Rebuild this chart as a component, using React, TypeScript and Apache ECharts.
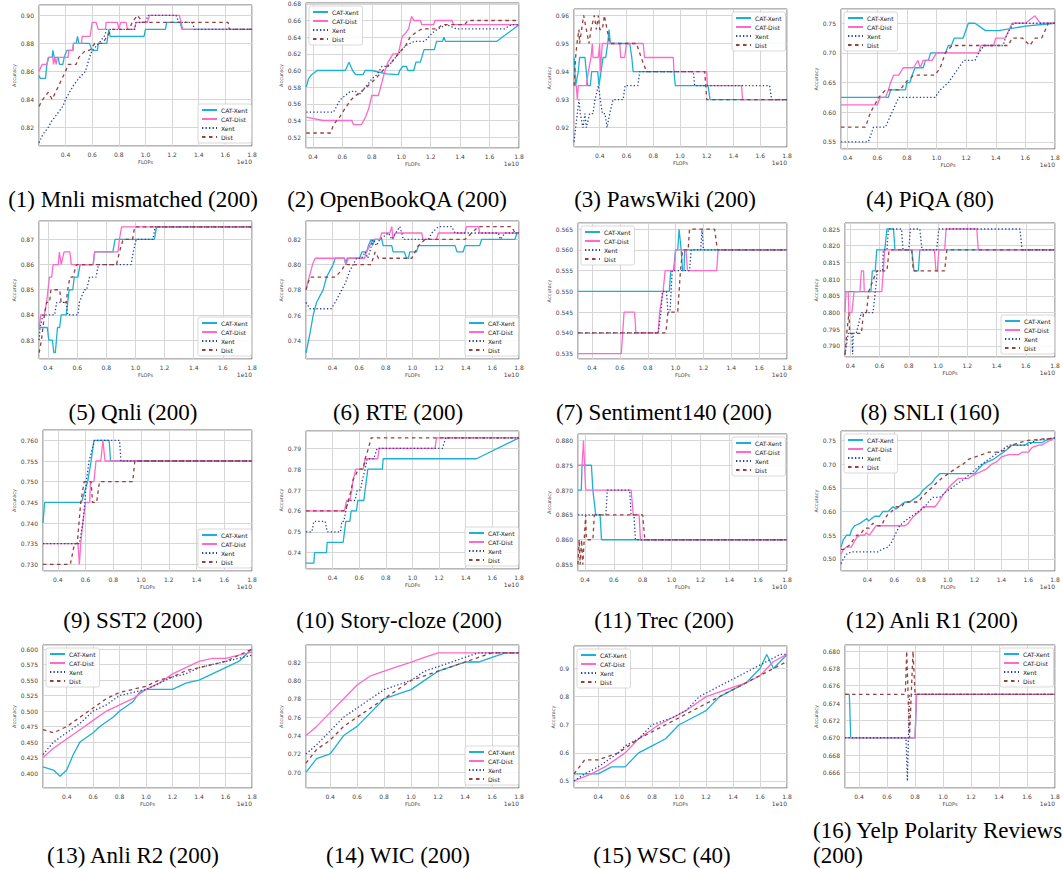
import React, { useEffect, useRef } from "react";
import * as echarts from "echarts";

// ---------------- data (x in units of 1e10 FLOPs, y = accuracy) ----------------
const mnliCatXent = [[0.201,0.857],[0.21,0.855],[0.25,0.855],[0.26,0.865],[0.275,0.87],[0.3,0.87],[0.305,0.875],[0.315,0.87],[0.345,0.87],[0.355,0.865],[0.38,0.865],[0.39,0.87],[0.41,0.875],[0.455,0.875],[0.46,0.88],[0.48,0.88],[0.49,0.885],[0.5,0.88],[0.58,0.88],[0.6,0.875],[0.64,0.875],[0.645,0.88],[0.71,0.88],[0.725,0.89],[0.735,0.885],[0.99,0.885],[1.0,0.89],[1.15,0.89],[1.16,0.895],[1.26,0.895],[1.275,0.89],[1.8,0.89]];
const mnliCatDist = [[0.201,0.86],[0.225,0.865],[0.26,0.865],[0.27,0.87],[0.305,0.87],[0.31,0.865],[0.32,0.87],[0.33,0.865],[0.34,0.87],[0.42,0.87],[0.425,0.875],[0.455,0.875],[0.46,0.88],[0.52,0.88],[0.525,0.885],[0.585,0.885],[0.6,0.895],[0.63,0.895],[0.645,0.89],[0.7,0.89],[0.705,0.895],[0.79,0.895],[0.8,0.89],[0.815,0.895],[0.855,0.895],[0.865,0.89],[0.915,0.89],[0.93,0.895],[1.015,0.895],[1.03,0.9],[1.255,0.9],[1.28,0.89],[1.8,0.89]];
const mnliXent = [[0.201,0.809],[0.23,0.815],[0.27,0.82],[0.3,0.825],[0.34,0.83],[0.38,0.835],[0.4,0.84],[0.43,0.845],[0.46,0.85],[0.5,0.855],[0.55,0.86],[0.58,0.87],[0.6,0.875],[0.65,0.88],[0.69,0.885],[0.71,0.89],[0.92,0.89],[0.93,0.895],[1.0,0.895],[1.02,0.9],[1.23,0.9],[1.25,0.895],[1.35,0.895],[1.37,0.89],[1.8,0.89]];
const mnliDist = [[0.201,0.835],[0.23,0.84],[0.27,0.845],[0.3,0.84],[0.35,0.85],[0.4,0.86],[0.42,0.865],[0.48,0.865],[0.5,0.87],[0.55,0.875],[0.58,0.875],[0.62,0.88],[0.68,0.88],[0.71,0.885],[0.75,0.89],[0.88,0.89],[0.9,0.895],[0.94,0.9],[0.98,0.895],[1.62,0.895],[1.63,0.89],[1.8,0.89]];

const obqaCatXent = [[0.355,0.58],[0.37,0.59],[0.39,0.595],[0.43,0.6],[0.62,0.6],[0.645,0.61],[0.67,0.6],[0.69,0.595],[0.74,0.595],[0.755,0.6],[0.8,0.6],[0.9,0.596],[0.98,0.595],[0.99,0.6],[1.01,0.605],[1.035,0.605],[1.045,0.6],[1.085,0.6],[1.1,0.61],[1.13,0.61],[1.155,0.625],[1.225,0.625],[1.24,0.635],[1.28,0.635],[1.29,0.64],[1.3,0.635],[1.65,0.635],[1.8,0.655]];
const obqaCatDist = [[0.355,0.544],[0.47,0.54],[0.665,0.54],[0.675,0.535],[0.73,0.535],[0.745,0.54],[0.76,0.545],[0.78,0.555],[0.8,0.57],[0.845,0.57],[0.86,0.58],[0.875,0.59],[0.89,0.6],[0.91,0.61],[0.945,0.62],[0.98,0.62],[1.005,0.64],[1.03,0.645],[1.05,0.65],[1.07,0.665],[1.085,0.66],[1.13,0.66],[1.14,0.655],[1.22,0.655],[1.23,0.66],[1.345,0.66],[1.355,0.655],[1.8,0.655]];
const obqaXent = [[0.355,0.55],[0.54,0.55],[0.555,0.555],[0.585,0.565],[0.62,0.57],[0.655,0.575],[0.69,0.575],[0.71,0.57],[0.755,0.58],[0.78,0.585],[0.8,0.59],[0.835,0.595],[0.87,0.605],[0.91,0.605],[0.935,0.61],[0.98,0.62],[1.03,0.63],[1.09,0.635],[1.16,0.635],[1.185,0.64],[1.21,0.645],[1.25,0.65],[1.31,0.655],[1.375,0.65],[1.7,0.65],[1.75,0.655],[1.8,0.655]];
const obqaDist = [[0.355,0.525],[0.52,0.525],[0.54,0.535],[0.585,0.545],[0.62,0.555],[0.66,0.565],[0.69,0.57],[0.73,0.575],[0.765,0.58],[0.795,0.585],[0.825,0.59],[0.875,0.6],[0.935,0.61],[0.98,0.62],[1.03,0.63],[1.06,0.64],[1.095,0.645],[1.14,0.65],[1.25,0.65],[1.275,0.655],[1.43,0.655],[1.455,0.66],[1.8,0.66]];

const pawsCatXent = [[0.209,0.945],[0.22,0.935],[0.24,0.94],[0.25,0.945],[0.29,0.945],[0.3,0.94],[0.31,0.935],[0.33,0.935],[0.34,0.94],[0.385,0.94],[0.395,0.935],[0.41,0.94],[0.425,0.945],[0.445,0.945],[0.46,0.95],[0.47,0.955],[0.48,0.95],[0.625,0.95],[0.64,0.945],[0.65,0.94],[0.955,0.94],[0.965,0.935],[1.21,0.935],[1.225,0.93],[1.8,0.93]];
const pawsCatDist = [[0.209,0.935],[0.225,0.935],[0.233,0.93],[0.24,0.935],[0.3,0.935],[0.315,0.94],[0.335,0.945],[0.345,0.95],[0.35,0.945],[0.39,0.945],[0.4,0.95],[0.405,0.94],[0.42,0.95],[0.55,0.95],[0.557,0.945],[0.587,0.945],[0.6,0.95],[0.725,0.95],[0.735,0.945],[0.95,0.945],[0.955,0.94],[1.2,0.94],[1.205,0.935],[1.46,0.935],[1.468,0.93],[1.8,0.93]];
const pawsXent = [[0.209,0.915],[0.22,0.92],[0.233,0.925],[0.245,0.93],[0.255,0.925],[0.275,0.92],[0.29,0.925],[0.3,0.92],[0.325,0.925],[0.35,0.925],[0.365,0.93],[0.39,0.935],[0.405,0.93],[0.42,0.925],[0.44,0.925],[0.455,0.92],[0.475,0.925],[0.5,0.93],[0.575,0.93],[0.59,0.935],[0.685,0.935],[0.7,0.94],[1.1,0.94],[1.11,0.935],[1.67,0.935],[1.685,0.93],[1.8,0.93]];
const pawsDist = [[0.209,0.935],[0.22,0.945],[0.23,0.95],[0.245,0.955],[0.25,0.95],[0.265,0.955],[0.28,0.96],[0.3,0.955],[0.32,0.95],[0.335,0.955],[0.36,0.96],[0.375,0.955],[0.39,0.96],[0.4,0.955],[0.42,0.955],[0.435,0.96],[0.455,0.955],[0.475,0.95],[0.675,0.95],[0.71,0.945],[0.75,0.94],[1.185,0.94],[1.2,0.93],[1.8,0.93]];

const piqaCatXent = [[0.355,0.625],[0.675,0.625],[0.69,0.6375],[0.79,0.6375],[0.8,0.65],[0.82,0.65],[0.835,0.6625],[0.855,0.675],[0.91,0.675],[0.925,0.6875],[0.945,0.6875],[0.96,0.7],[1.06,0.7],[1.08,0.7125],[1.1,0.7125],[1.12,0.725],[1.18,0.725],[1.215,0.75],[1.26,0.75],[1.33,0.7375],[1.42,0.7375],[1.6,0.745],[1.8,0.75]];
const piqaCatDist = [[0.355,0.6125],[0.6,0.6125],[0.62,0.625],[0.655,0.625],[0.675,0.6375],[0.69,0.65],[0.71,0.6625],[0.745,0.6625],[0.775,0.675],[0.845,0.675],[0.875,0.6875],[0.89,0.675],[0.91,0.6875],[0.97,0.6875],[1.0,0.7],[1.285,0.7],[1.3,0.7125],[1.385,0.7125],[1.4,0.725],[1.465,0.725],[1.51,0.75],[1.6,0.75],[1.665,0.7625],[1.7,0.75],[1.8,0.75]];
const piqaXent = [[0.355,0.55],[0.54,0.55],[0.575,0.575],[0.655,0.575],[0.7,0.6],[0.745,0.625],[0.99,0.625],[1.025,0.6375],[1.08,0.65],[1.115,0.6625],[1.15,0.675],[1.185,0.6875],[1.26,0.6875],[1.285,0.7],[1.32,0.7125],[1.45,0.7125],[1.465,0.725],[1.49,0.7375],[1.52,0.75],[1.8,0.75]];
const piqaDist = [[0.355,0.575],[0.52,0.575],[0.555,0.6],[0.61,0.625],[0.655,0.6375],[0.755,0.6375],[0.79,0.65],[0.845,0.6625],[0.99,0.6625],[1.025,0.675],[1.06,0.7],[1.105,0.7125],[1.485,0.7125],[1.51,0.725],[1.58,0.725],[1.63,0.7125],[1.665,0.725],[1.71,0.725],[1.755,0.75],[1.8,0.75]];

const qnliCatXent = [[0.339,0.835],[0.395,0.835],[0.405,0.83],[0.43,0.83],[0.44,0.825],[0.45,0.825],[0.465,0.835],[0.48,0.835],[0.49,0.84],[0.525,0.84],[0.535,0.845],[0.545,0.85],[0.57,0.85],[0.58,0.855],[0.605,0.855],[0.62,0.86],[0.71,0.86],[0.72,0.865],[0.845,0.865],[0.86,0.87],[1.13,0.87],[1.145,0.875],[1.8,0.875]];
const qnliCatDist = [[0.339,0.835],[0.35,0.84],[0.375,0.84],[0.39,0.845],[0.41,0.855],[0.425,0.855],[0.435,0.86],[0.47,0.86],[0.478,0.865],[0.49,0.86],[0.51,0.865],[0.55,0.865],[0.56,0.86],[0.71,0.86],[0.72,0.865],[0.88,0.865],[0.89,0.87],[0.905,0.875],[1.8,0.875]];
const qnliXent = [[0.339,0.83],[0.345,0.835],[0.365,0.84],[0.445,0.84],[0.46,0.845],[0.525,0.845],[0.535,0.84],[0.605,0.84],[0.615,0.845],[0.65,0.85],[0.665,0.85],[0.685,0.855],[0.73,0.855],[0.745,0.86],[0.97,0.86],[0.985,0.865],[1.005,0.87],[1.12,0.87],[1.135,0.875],[1.8,0.875]];
const qnliDist = [[0.339,0.825],[0.355,0.83],[0.365,0.835],[0.375,0.84],[0.39,0.845],[0.41,0.845],[0.42,0.85],[0.48,0.85],[0.49,0.845],[0.525,0.845],[0.535,0.85],[0.55,0.855],[0.57,0.855],[0.595,0.86],[0.87,0.86],[0.89,0.865],[0.915,0.87],[0.98,0.87],[0.995,0.875],[1.8,0.875]];

const rteCatXent = [[0.201,0.73],[0.23,0.745],[0.255,0.76],[0.28,0.77],[0.305,0.775],[0.33,0.78],[0.355,0.79],[0.38,0.795],[0.405,0.8],[0.42,0.805],[0.49,0.805],[0.5,0.8],[0.51,0.805],[0.605,0.805],[0.62,0.81],[0.655,0.81],[0.67,0.815],[0.69,0.82],[0.7,0.815],[0.72,0.82],[0.77,0.82],[0.78,0.815],[0.845,0.815],[0.855,0.81],[0.94,0.81],[0.955,0.805],[0.97,0.805],[0.98,0.81],[1.03,0.81],[1.045,0.815],[1.32,0.815],[1.335,0.81],[1.38,0.81],[1.395,0.815],[1.505,0.815],[1.52,0.82],[1.77,0.82],[1.785,0.825],[1.8,0.825]];
const rteCatDist = [[0.201,0.78],[0.225,0.79],[0.25,0.8],[0.27,0.805],[0.49,0.805],[0.5,0.8],[0.52,0.805],[0.64,0.805],[0.655,0.81],[0.68,0.815],[0.705,0.82],[0.755,0.82],[0.77,0.825],[0.83,0.825],[0.845,0.83],[0.855,0.82],[0.87,0.825],[1.07,0.825],[1.08,0.82],[1.18,0.82],[1.195,0.825],[1.395,0.825],[1.405,0.83],[1.495,0.83],[1.505,0.825],[1.8,0.825]];
const rteXent = [[0.201,0.77],[0.23,0.765],[0.39,0.765],[0.42,0.77],[0.445,0.775],[0.47,0.78],[0.495,0.785],[0.53,0.795],[0.555,0.8],[0.58,0.805],[0.62,0.805],[0.645,0.81],[0.665,0.805],[0.68,0.81],[0.705,0.82],[0.73,0.815],[0.755,0.82],[0.82,0.825],[0.845,0.82],[0.905,0.83],[0.92,0.825],[0.93,0.82],[1.12,0.82],[1.145,0.825],[1.195,0.83],[1.295,0.83],[1.32,0.825],[1.645,0.825],[1.66,0.82],[1.695,0.825],[1.8,0.825]];
const rteDist = [[0.201,0.78],[0.23,0.79],[0.42,0.79],[0.465,0.795],[0.495,0.8],[0.69,0.8],[0.72,0.81],[0.745,0.805],[0.995,0.805],[1.045,0.815],[1.095,0.82],[1.395,0.82],[1.445,0.825],[1.495,0.83],[1.745,0.83],[1.77,0.825],[1.8,0.825]];

const sentCatXent = [[0.299,0.55],[0.955,0.55],[0.965,0.555],[0.985,0.555],[1.0,0.56],[1.015,0.56],[1.025,0.565],[1.04,0.56],[1.05,0.555],[1.06,0.555],[1.065,0.56],[1.8,0.56]];
const sentCatDist = [[0.299,0.535],[0.61,0.535],[0.63,0.545],[0.705,0.545],[0.715,0.54],[0.875,0.54],[0.885,0.545],[0.91,0.55],[0.925,0.555],[0.99,0.555],[1.0,0.56],[1.075,0.56],[1.085,0.555],[1.295,0.555],[1.305,0.56],[1.8,0.56]];
const sentXent = [[0.299,0.54],[0.875,0.54],[0.895,0.545],[0.905,0.55],[0.935,0.55],[0.945,0.545],[0.96,0.545],[0.975,0.555],[1.1,0.555],[1.112,0.56],[1.18,0.56],[1.19,0.565],[1.2,0.56],[1.8,0.56]];
const sentDist = [[0.299,0.54],[0.93,0.54],[0.945,0.545],[1.015,0.545],[1.025,0.55],[1.035,0.555],[1.05,0.56],[1.09,0.56],[1.1,0.565],[1.28,0.565],[1.3,0.56],[1.8,0.56]];

const snliCatXent = [[0.363,0.80625],[0.54,0.80625],[0.55,0.8125],[0.57,0.8125],[0.58,0.81875],[0.635,0.81875],[0.65,0.825],[0.695,0.825],[0.705,0.81875],[0.82,0.81875],[0.835,0.8125],[0.865,0.8125],[0.875,0.81875],[1.8,0.81875]];
const snliCatDist = [[0.363,0.8],[0.37,0.80625],[0.385,0.80625],[0.39,0.8],[0.41,0.8],[0.425,0.80625],[0.465,0.80625],[0.475,0.8125],[0.49,0.8125],[0.495,0.80625],[0.615,0.80625],[0.625,0.8125],[0.635,0.81875],[0.975,0.81875],[0.985,0.8125],[0.995,0.8125],[1.005,0.81875],[1.045,0.81875],[1.055,0.825],[1.265,0.825],[1.275,0.81875],[1.8,0.81875]];
const snliXent = [[0.363,0.7875],[0.385,0.79375],[0.41,0.79375],[0.415,0.7875],[0.42,0.79375],[0.44,0.79375],[0.475,0.8],[0.555,0.8],[0.57,0.80625],[0.585,0.8125],[0.62,0.8125],[0.625,0.81875],[0.65,0.81875],[0.66,0.825],[0.75,0.825],[0.76,0.81875],[0.8,0.81875],[0.81,0.825],[0.875,0.825],[0.89,0.81875],[0.99,0.81875],[1.005,0.825],[1.56,0.825],[1.575,0.81875],[1.8,0.81875]];
const snliDist = [[0.363,0.7875],[0.375,0.79375],[0.39,0.8],[0.395,0.79375],[0.475,0.79375],[0.49,0.8],[0.51,0.8],[0.525,0.80625],[0.58,0.8125],[0.65,0.8125],[0.665,0.81875],[0.82,0.81875],[0.83,0.8125],[1.045,0.8125],[1.06,0.81875],[1.8,0.81875]];

const sst2CatXent = [[0.293,0.74],[0.305,0.745],[0.57,0.745],[0.615,0.75],[0.64,0.755],[0.66,0.76],[0.77,0.76],[0.78,0.755],[1.8,0.755]];
const sst2CatDist = [[0.293,0.735],[0.545,0.735],[0.555,0.73],[0.565,0.735],[0.58,0.74],[0.6,0.745],[0.63,0.745],[0.635,0.75],[0.66,0.75],[0.675,0.755],[0.71,0.755],[0.725,0.76],[0.74,0.755],[1.8,0.755]];
const sst2Xent = [[0.293,0.735],[0.555,0.735],[0.58,0.74],[0.595,0.745],[0.605,0.75],[0.625,0.755],[0.665,0.76],[0.845,0.76],[0.855,0.755],[1.8,0.755]];
const sst2Dist = [[0.293,0.73],[0.49,0.73],[0.52,0.735],[0.54,0.735],[0.565,0.745],[0.59,0.75],[0.64,0.75],[0.65,0.745],[0.68,0.745],[0.7,0.75],[0.94,0.75],[0.955,0.755],[1.8,0.755]];

const storyCatXent = [[0.201,0.735],[0.26,0.735],[0.265,0.74],[0.355,0.74],[0.36,0.745],[0.48,0.745],[0.49,0.75],[0.5,0.755],[0.53,0.755],[0.54,0.76],[0.58,0.76],[0.59,0.765],[0.635,0.765],[0.645,0.77],[0.665,0.78],[0.775,0.78],[0.78,0.785],[1.48,0.785],[1.8,0.795]];
const storyCatDist = [[0.201,0.76],[0.49,0.76],[0.505,0.765],[0.53,0.765],[0.545,0.77],[0.555,0.775],[0.575,0.78],[0.63,0.78],[0.645,0.785],[0.74,0.785],[0.75,0.79],[1.17,0.79],[1.18,0.795],[1.8,0.795]];
const storyXent = [[0.201,0.75],[0.245,0.75],[0.26,0.755],[0.345,0.755],[0.36,0.75],[0.46,0.75],[0.47,0.755],[0.485,0.755],[0.5,0.76],[0.52,0.765],[0.57,0.765],[0.585,0.77],[0.61,0.77],[0.625,0.775],[0.645,0.78],[0.66,0.785],[0.71,0.785],[0.735,0.79],[1.225,0.79],[1.25,0.795],[1.8,0.795]];
const storyDist = [[0.201,0.76],[0.495,0.76],[0.52,0.765],[0.54,0.77],[0.555,0.775],[0.595,0.78],[0.63,0.78],[0.645,0.785],[0.67,0.79],[0.69,0.795],[1.8,0.795]];

const trecCatXent = [[0.352,0.87],[0.375,0.87],[0.38,0.875],[0.445,0.875],[0.455,0.87],[0.475,0.865],[0.505,0.865],[0.515,0.86],[1.8,0.86]];
const trecCatDist = [[0.352,0.875],[0.38,0.875],[0.39,0.88],[0.405,0.87],[0.72,0.87],[0.735,0.865],[0.775,0.865],[0.785,0.86],[1.8,0.86]];
const trecXent = [[0.352,0.865],[0.545,0.865],[0.555,0.87],[0.71,0.87],[0.72,0.865],[0.74,0.865],[0.75,0.86],[1.8,0.86]];
const trecDist = [[0.352,0.855],[0.36,0.86],[0.367,0.855],[0.377,0.86],[0.385,0.855],[0.395,0.86],[0.405,0.865],[0.41,0.86],[0.455,0.86],[0.465,0.865],[0.8,0.865],[0.815,0.86],[1.8,0.86]];

const anliR1CatXent = [[0.203,0.525],[0.22,0.54],[0.245,0.55],[0.27,0.55],[0.28,0.56],[0.305,0.57],[0.345,0.575],[0.37,0.58],[0.395,0.585],[0.41,0.58],[0.43,0.585],[0.455,0.59],[0.49,0.59],[0.515,0.6],[0.555,0.6],[0.59,0.61],[0.615,0.605],[0.655,0.615],[0.68,0.62],[0.715,0.62],[0.74,0.625],[0.79,0.635],[0.815,0.645],[0.855,0.655],[0.88,0.66],[0.905,0.67],[0.94,0.68],[1.2,0.68],[1.23,0.69],[1.265,0.7],[1.3,0.705],[1.34,0.71],[1.365,0.715],[1.39,0.72],[1.415,0.725],[1.44,0.73],[1.48,0.74],[1.58,0.74],[1.6,0.745],[1.7,0.745],[1.73,0.75],[1.8,0.755]];
const anliR1CatDist = [[0.203,0.51],[0.22,0.52],[0.245,0.525],[0.28,0.525],[0.29,0.53],[0.32,0.545],[0.345,0.55],[0.38,0.55],[0.39,0.555],[0.415,0.55],[0.44,0.56],[0.465,0.57],[0.68,0.57],[0.705,0.575],[0.73,0.585],[0.765,0.595],[0.79,0.6],[0.815,0.61],[0.905,0.61],[0.93,0.62],[0.965,0.635],[1.005,0.65],[1.04,0.66],[1.08,0.67],[1.155,0.67],[1.18,0.675],[1.215,0.68],[1.255,0.685],[1.29,0.69],[1.33,0.7],[1.365,0.705],[1.4,0.715],[1.455,0.72],[1.53,0.72],[1.555,0.725],[1.6,0.725],[1.63,0.735],[1.68,0.74],[1.7,0.74],[1.73,0.745],[1.8,0.755]];
const anliR1Xent = [[0.203,0.49],[0.22,0.5],[0.245,0.51],[0.28,0.515],[0.48,0.515],[0.505,0.52],[0.555,0.525],[0.58,0.535],[0.605,0.55],[0.64,0.57],[0.68,0.58],[0.73,0.59],[0.78,0.6],[0.83,0.61],[0.855,0.62],[0.89,0.63],[0.94,0.63],[0.98,0.64],[1.03,0.65],[1.08,0.66],[1.13,0.67],[1.19,0.685],[1.255,0.7],[1.305,0.71],[1.355,0.72],[1.405,0.73],[1.455,0.74],[1.6,0.74],[1.655,0.75],[1.8,0.755]];
const anliR1Dist = [[0.203,0.52],[0.23,0.52],[0.245,0.525],[0.27,0.53],[0.295,0.54],[0.32,0.55],[0.33,0.55],[0.355,0.555],[0.38,0.565],[0.415,0.565],[0.44,0.575],[0.48,0.57],[0.505,0.57],[0.53,0.585],[0.555,0.595],[0.58,0.6],[0.615,0.61],[0.655,0.61],[0.68,0.62],[0.78,0.62],[0.805,0.63],[0.84,0.64],[0.88,0.65],[0.915,0.66],[0.955,0.67],[1.005,0.68],[1.055,0.69],[1.115,0.7],[1.155,0.71],[1.205,0.715],[1.255,0.72],[1.305,0.725],[1.38,0.725],[1.43,0.73],[1.48,0.74],[1.53,0.745],[1.6,0.75],[1.8,0.755]];

const anliR2CatXent = [[0.221,0.41],[0.3,0.405],[0.35,0.395],[0.4,0.405],[0.45,0.43],[0.5,0.45],[0.6,0.465],[0.65,0.475],[0.75,0.49],[0.8,0.5],[0.9,0.515],[0.95,0.53],[1.0,0.535],[1.2,0.535],[1.3,0.545],[1.4,0.55],[1.5,0.56],[1.6,0.57],[1.7,0.58],[1.8,0.6]];
const anliR2CatDist = [[0.221,0.425],[0.3,0.44],[0.4,0.455],[0.5,0.47],[0.6,0.485],[0.7,0.5],[0.8,0.51],[0.9,0.52],[1.0,0.535],[1.1,0.545],[1.2,0.56],[1.3,0.57],[1.4,0.58],[1.5,0.585],[1.6,0.585],[1.7,0.59],[1.8,0.595]];
const anliR2Xent = [[0.221,0.43],[0.3,0.45],[0.4,0.465],[0.5,0.48],[0.6,0.5],[0.7,0.51],[0.8,0.525],[0.9,0.53],[1.0,0.535],[1.1,0.545],[1.2,0.555],[1.3,0.56],[1.4,0.57],[1.5,0.575],[1.6,0.58],[1.7,0.585],[1.8,0.59]];
const anliR2Dist = [[0.221,0.47],[0.3,0.465],[0.4,0.475],[0.5,0.49],[0.6,0.505],[0.7,0.52],[0.8,0.53],[0.9,0.535],[1.0,0.54],[1.1,0.55],[1.2,0.555],[1.3,0.565],[1.4,0.57],[1.5,0.575],[1.6,0.58],[1.7,0.59],[1.8,0.6]];

const wicCatXent = [[0.221,0.7],[0.3,0.715],[0.4,0.72],[0.5,0.74],[0.6,0.75],[0.7,0.765],[0.8,0.78],[0.9,0.785],[1.0,0.79],[1.1,0.8],[1.2,0.81],[1.3,0.815],[1.4,0.82],[1.5,0.82],[1.6,0.825],[1.7,0.83],[1.8,0.83]];
const wicCatDist = [[0.221,0.74],[0.3,0.75],[0.4,0.765],[0.5,0.78],[0.6,0.795],[0.7,0.805],[0.8,0.81],[0.9,0.815],[1.0,0.82],[1.1,0.825],[1.2,0.83],[1.8,0.83]];
const wicXent = [[0.221,0.72],[0.3,0.73],[0.4,0.745],[0.5,0.76],[0.6,0.77],[0.7,0.78],[0.8,0.79],[0.9,0.795],[1.0,0.8],[1.1,0.81],[1.2,0.815],[1.3,0.82],[1.4,0.825],[1.5,0.83],[1.8,0.83]];
const wicDist = [[0.221,0.71],[0.3,0.725],[0.4,0.735],[0.5,0.75],[0.6,0.76],[0.7,0.77],[0.8,0.78],[0.9,0.79],[1.0,0.8],[1.1,0.805],[1.2,0.81],[1.3,0.815],[1.4,0.82],[1.5,0.825],[1.6,0.83],[1.8,0.83]];

const wscCatXent = [[0.221,0.525],[0.4,0.525],[0.5,0.55],[0.6,0.55],[0.7,0.6],[0.8,0.625],[0.9,0.65],[1.0,0.7],[1.1,0.725],[1.2,0.75],[1.3,0.8],[1.4,0.825],[1.5,0.85],[1.6,0.9],[1.65,0.95],[1.7,0.9],[1.8,0.95]];
const wscCatDist = [[0.221,0.5],[0.35,0.525],[0.45,0.55],[0.6,0.6],[0.7,0.65],[0.85,0.7],[0.95,0.725],[1.05,0.75],[1.2,0.8],[1.35,0.825],[1.5,0.85],[1.6,0.875],[1.7,0.925],[1.8,0.95]];
const wscXent = [[0.221,0.5],[0.3,0.525],[0.4,0.55],[0.55,0.6],[0.6,0.625],[0.7,0.65],[0.8,0.7],[0.95,0.725],[1.05,0.75],[1.15,0.8],[1.25,0.825],[1.35,0.85],[1.45,0.875],[1.55,0.9],[1.65,0.925],[1.75,0.95],[1.8,0.95]];
const wscDist = [[0.221,0.525],[0.3,0.575],[0.4,0.575],[0.55,0.6],[0.7,0.65],[0.8,0.675],[0.9,0.7],[1.0,0.725],[1.2,0.775],[1.3,0.8],[1.4,0.825],[1.6,0.875],[1.7,0.9],[1.8,0.925]];

const yelpCatXent = [[0.299,0.675],[0.33,0.675],[0.34,0.67],[0.8,0.67],[0.81,0.675],[1.8,0.675]];
const yelpCatDist = [[0.299,0.67],[0.8,0.67],[0.81,0.675],[1.8,0.675]];
const yelpXent = [[0.299,0.67],[0.735,0.67],[0.745,0.665],[0.76,0.675],[1.8,0.675]];
const yelpDist = [[0.299,0.675],[0.73,0.675],[0.74,0.68],[0.76,0.67],[0.785,0.68],[0.8,0.675],[1.8,0.675]];

const seriesNames = ["CAT-Xent", "CAT-Dist", "Xent", "Dist"];
const xTickStep = 0.2;
const xMax = 1.8;

// ---------------- layout ----------------
type Panel = {
  cap: string[]; data: number[][][]; box: number[]; xMin: number;
  yMin: number; yMax: number; yStep: number; yDec: number; leg: string; capX: number; capY: number; capLeft?: boolean;
};

const panels: Panel[] = [
  { cap: ["(1) Mnli mismatched (200)"], data: [mnliCatXent, mnliCatDist, mnliXent, mnliDist], box: [39, 5, 252, 146], xMin: 0.201, yMin: 0.8067, yMax: 0.9074, yStep: 0.02, yDec: 2, leg: "lr", capX: 133, capY: 199 },
  { cap: ["(2) OpenBookQA (200)"], data: [obqaCatXent, obqaCatDist, obqaXent, obqaDist], box: [306, 3, 519, 148], xMin: 0.353, yMin: 0.507, yMax: 0.681, yStep: 0.02, yDec: 2, leg: "ul", capX: 397, capY: 199 },
  { cap: ["(3) PawsWiki (200)"], data: [pawsCatXent, pawsCatDist, pawsXent, pawsDist], box: [574, 9, 787, 147], xMin: 0.208, yMin: 0.9131, yMax: 0.9623, yStep: 0.01, yDec: 2, leg: "ur", capX: 665, capY: 199 },
  { cap: ["(4) PiQA (80)"], data: [piqaCatXent, piqaCatDist, piqaXent, piqaDist], box: [841, 9, 1055, 149], xMin: 0.355, yMin: 0.538, yMax: 0.774, yStep: 0.05, yDec: 2, leg: "ul", capX: 930, capY: 199 },
  { cap: ["(5) Qnli (200)"], data: [qnliCatXent, qnliCatDist, qnliXent, qnliDist], box: [39, 221, 252, 359], xMin: 0.338, yMin: 0.8225, yMax: 0.8773, yStep: 0.01, yDec: 2, leg: "lr", capX: 133, capY: 412 },
  { cap: ["(6) RTE (200)"], data: [rteCatXent, rteCatDist, rteXent, rteDist], box: [306, 221, 519, 359], xMin: 0.201, yMin: 0.7252, yMax: 0.8345, yStep: 0.02, yDec: 2, leg: "lr", capX: 398, capY: 412 },
  { cap: ["(7) Sentiment140 (200)"], data: [sentCatXent, sentCatDist, sentXent, sentDist], box: [578, 223, 787, 359], xMin: 0.299, yMin: 0.5337, yMax: 0.5665, yStep: 0.005, yDec: 3, leg: "ul", capX: 664, capY: 412 },
  { cap: ["(8) SNLI (160)"], data: [snliCatXent, snliCatDist, snliXent, snliDist], box: [845, 223, 1055, 357], xMin: 0.363, yMin: 0.7867, yMax: 0.8268, yStep: 0.005, yDec: 3, leg: "lr", capX: 930, capY: 412 },
  { cap: ["(9) SST2 (200)"], data: [sst2CatXent, sst2CatDist, sst2Xent, sst2Dist], box: [43, 430, 252, 571], xMin: 0.293, yMin: 0.7284, yMax: 0.7625, yStep: 0.005, yDec: 3, leg: "lr", capX: 133, capY: 620 },
  { cap: ["(10) Story-cloze (200)"], data: [storyCatXent, storyCatDist, storyXent, storyDist], box: [306, 431, 519, 569], xMin: 0.201, yMin: 0.7322, yMax: 0.7983, yStep: 0.01, yDec: 2, leg: "lr", capX: 399, capY: 620 },
  { cap: ["(11) Trec (200)"], data: [trecCatXent, trecCatDist, trecXent, trecDist], box: [578, 434, 787, 571], xMin: 0.352, yMin: 0.8537, yMax: 0.8813, yStep: 0.005, yDec: 3, leg: "ur", capX: 664, capY: 620 },
  { cap: ["(12) Anli R1 (200)"], data: [anliR1CatXent, anliR1CatDist, anliR1Xent, anliR1Dist], box: [841, 431, 1055, 571], xMin: 0.203, yMin: 0.4746, yMax: 0.7697, yStep: 0.05, yDec: 2, leg: "ul", capX: 932, capY: 620 },
  { cap: ["(13) Anli R2 (200)"], data: [anliR2CatXent, anliR2CatDist, anliR2Xent, anliR2Dist], box: [43, 645, 252, 788], xMin: 0.221, yMin: 0.376, yMax: 0.6065, yStep: 0.025, yDec: 3, leg: "ul", capX: 133, capY: 855 },
  { cap: ["(14) WIC (200)"], data: [wicCatXent, wicCatDist, wicXent, wicDist], box: [306, 645, 519, 788], xMin: 0.221, yMin: 0.683, yMax: 0.8385, yStep: 0.02, yDec: 2, leg: "lr", capX: 398, capY: 855 },
  { cap: ["(15) WSC (40)"], data: [wscCatXent, wscCatDist, wscXent, wscDist], box: [574, 646, 787, 788], xMin: 0.221, yMin: 0.475, yMax: 0.98, yStep: 0.1, yDec: 1, leg: "ul", capX: 662, capY: 855 },
  { cap: ["(16) Yelp Polarity Reviews", "(200)"], data: [yelpCatXent, yelpCatDist, yelpXent, yelpDist], box: [845, 645, 1055, 788], xMin: 0.299, yMin: 0.6642, yMax: 0.6807, yStep: 0.002, yDec: 3, leg: "ur", capX: 813, capY: 830, capLeft: true },
];

const COLORS = ["#1ab1d5", "#ff6ac8", "#25409e", "#953f3e"];
const DASHES: any[] = ["solid", "solid", [1.3, 2.2], [3.5, 3.5]];
const FONT = '"DejaVu Sans", sans-serif';
const SERIF = '"Liberation Serif", "Times New Roman", serif';

function tickFmt(step: number, dec: number) {
  return (v: number) => {
    const r = v / step;
    return Math.abs(r - Math.round(r)) < 1e-6 ? v.toFixed(dec) : "";
  };
}

function buildOption() {
  const grid: any[] = [];
  const xAxis: any[] = [];
  const yAxis: any[] = [];
  const series: any[] = [];
  const legend: any[] = [];
  const graphic: any[] = [];

  panels.forEach((p, i) => {
    const [l, t, r, b] = p.box;
    grid.push({ left: l, top: t, width: r - l, height: b - t, show: true, borderColor: "#4a4a4a", borderWidth: 0.8, backgroundColor: "#fff", containLabel: false });
    xAxis.push({
      gridIndex: i, type: "value", min: p.xMin, max: xMax, minInterval: xTickStep, maxInterval: xTickStep,
      axisLine: { show: false }, axisTick: { show: false },
      splitLine: { show: true, lineStyle: { color: "#d6d6d6", width: 1 } },
      axisLabel: { fontSize: 6, color: "#444", fontFamily: FONT, margin: 5, formatter: tickFmt(xTickStep, 1) },
      name: "FLOPs", nameLocation: "middle", nameGap: 13,
      nameTextStyle: { fontSize: 5, color: "#444", fontFamily: FONT },
    });
    yAxis.push({
      gridIndex: i, type: "value", min: p.yMin, max: p.yMax, minInterval: p.yStep, maxInterval: p.yStep,
      axisLine: { show: false }, axisTick: { show: false },
      splitLine: { show: true, lineStyle: { color: "#d6d6d6", width: 1 } },
      axisLabel: { fontSize: 6, color: "#444", fontFamily: FONT, margin: 5, formatter: tickFmt(p.yStep, p.yDec) },
      name: "Accuracy", nameLocation: "middle", nameGap: p.yDec === 3 ? 24 : p.yDec === 1 ? 15 : 20,
      nameTextStyle: { fontSize: 5, color: "#444", fontFamily: FONT },
    });
    p.data.forEach((d, k) => {
      series.push({
        type: "line", name: seriesNames[k], xAxisIndex: i, yAxisIndex: i, data: d,
        showSymbol: false, symbol: "none", clip: true, silent: true,
        lineStyle: { color: COLORS[k], width: 1.3, type: DASHES[k] },
        itemStyle: { color: COLORS[k] },
      });
    });
    let legLeft = l + 3, legTop = t + 3;
    if (p.leg === "lr") { legLeft = r - 54; legTop = b - 42; }
    if (p.leg === "ur") { legLeft = r - 55; legTop = t + 3; }
    legend.push({
      data: seriesNames, orient: "vertical", left: legLeft, top: legTop,
      itemWidth: 15, itemHeight: 6, itemGap: 3, padding: [3, 4, 3, 3],
      backgroundColor: "rgba(255,255,255,0.85)", borderColor: "#cfcfcf", borderWidth: 0.8, borderRadius: 2,
      itemStyle: { opacity: 0, borderWidth: 0 },
      textStyle: { fontSize: 6, color: "#222", fontFamily: FONT, padding: [0, 0, 0, -1] },
      selectedMode: false,
    });
    graphic.push({
      type: "text", x: r, y: b + 12, z: 10,
      style: { text: "1e10", font: `6px ${FONT}`, fill: "#444", textAlign: "right", align: "right", textVerticalAlign: "top", verticalAlign: "top" },
    });
    p.cap.forEach((line, j) => {
      graphic.push({
        type: "text", x: p.capX, y: p.capY + j * 25, z: 10,
        style: {
          text: line, font: `23px ${SERIF}`, fill: "#000",
          textAlign: p.capLeft ? "left" : "center", align: p.capLeft ? "left" : "center",
          textVerticalAlign: "middle", verticalAlign: "middle",
        },
      });
    });
  });

  return { animation: false, backgroundColor: "#fff", grid, xAxis, yAxis, series, legend, graphic };
}

export default function App() {
  const ref = useRef<HTMLDivElement>(null);
  useEffect(() => {
    if (!ref.current) return;
    const chart = echarts.init(ref.current, undefined, { renderer: "svg" });
    chart.setOption(buildOption() as any);
    return () => chart.dispose();
  }, []);
  return <div ref={ref} style={{ position: "absolute", left: 0, top: 0, width: 1063, height: 869, background: "#fff" }} />;
}
